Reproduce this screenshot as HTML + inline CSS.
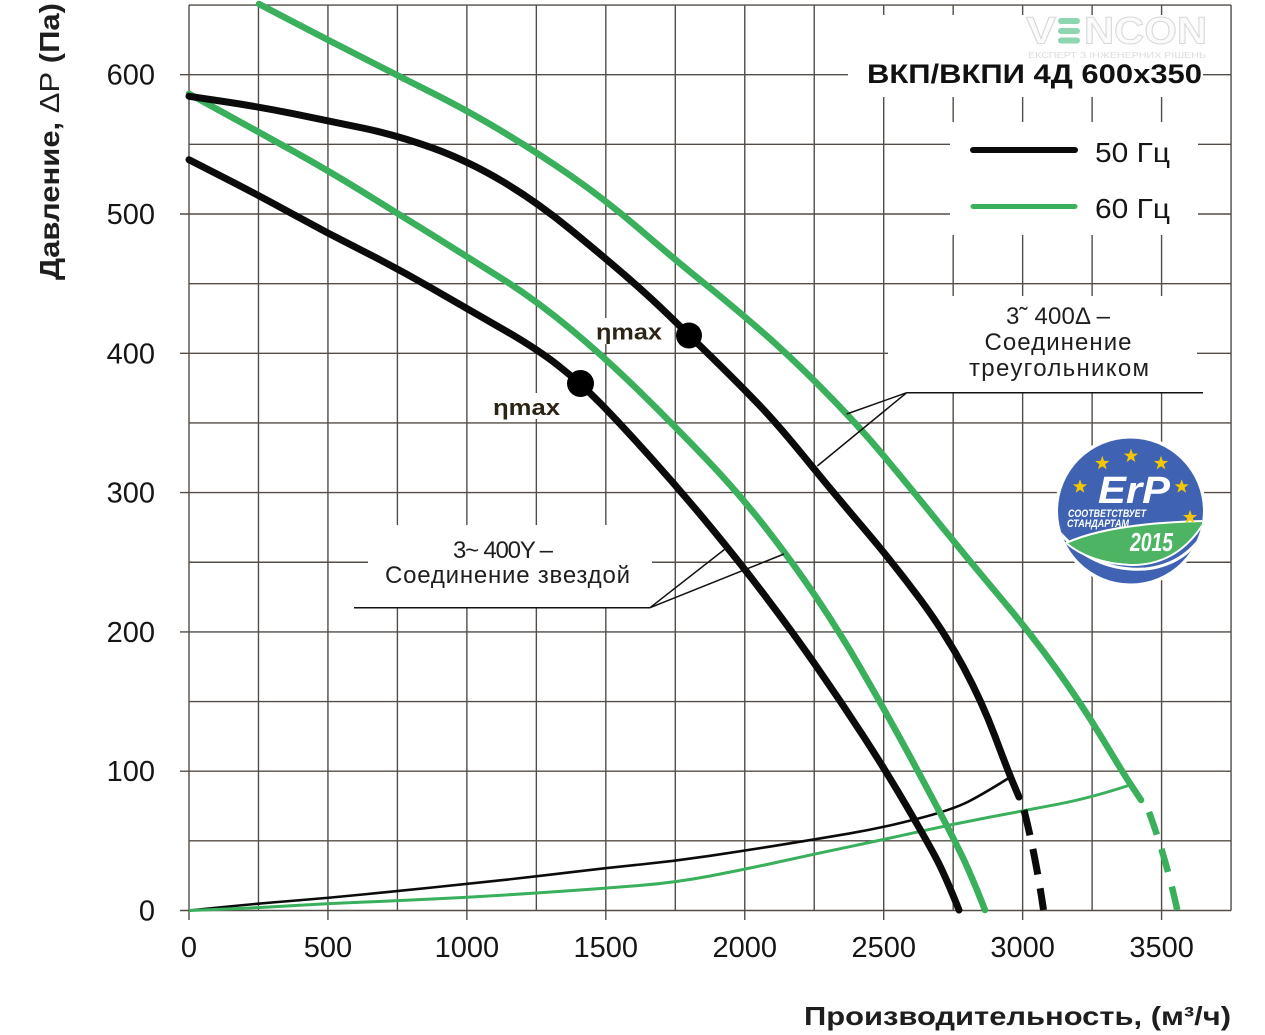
<!DOCTYPE html>
<html><head><meta charset="utf-8">
<style>
html,body{margin:0;padding:0;background:#fff;}
svg{display:block;}
</style></head>
<body>
<svg width="1265" height="1035" viewBox="0 0 1265 1035" xmlns="http://www.w3.org/2000/svg" font-family="'Liberation Sans', Arial, sans-serif">
<rect width="1265" height="1035" fill="#fff"/>
<defs>
<path id="st" d="M0,-1 L0.235,-0.324 L0.951,-0.309 L0.38,0.124 L0.588,0.809 L0,0.4 L-0.588,0.809 L-0.38,0.124 L-0.951,-0.309 L-0.235,-0.324 Z"/>
<clipPath id="erpc"><circle cx="1130.5" cy="511" r="72.5"/></clipPath>
</defs>

<!-- grid -->
<g stroke="#544c46" stroke-width="1.4" fill="none">
<line x1="189" y1="5" x2="189" y2="920"/>
<line x1="258.47" y1="5" x2="258.47" y2="910.5"/>
<line x1="327.94" y1="5" x2="327.94" y2="920"/>
<line x1="397.41" y1="5" x2="397.41" y2="910.5"/>
<line x1="466.88" y1="5" x2="466.88" y2="920"/>
<line x1="536.35" y1="5" x2="536.35" y2="910.5"/>
<line x1="605.82" y1="5" x2="605.82" y2="920"/>
<line x1="675.29" y1="5" x2="675.29" y2="910.5"/>
<line x1="744.76" y1="5" x2="744.76" y2="920"/>
<line x1="814.23" y1="5" x2="814.23" y2="910.5"/>
<line x1="883.7" y1="5" x2="883.7" y2="920"/>
<line x1="953.17" y1="5" x2="953.17" y2="910.5"/>
<line x1="1022.64" y1="5" x2="1022.64" y2="920"/>
<line x1="1092.11" y1="5" x2="1092.11" y2="910.5"/>
<line x1="1161.58" y1="5" x2="1161.58" y2="920"/>
<line x1="1231.05" y1="5" x2="1231.05" y2="910.5"/>

<line x1="180" y1="910.5" x2="1231" y2="910.5"/>
<line x1="189" y1="840.85" x2="1231" y2="840.85"/>
<line x1="180" y1="771.2" x2="1231" y2="771.2"/>
<line x1="189" y1="701.55" x2="1231" y2="701.55"/>
<line x1="180" y1="631.9" x2="1231" y2="631.9"/>
<line x1="189" y1="562.25" x2="1231" y2="562.25"/>
<line x1="180" y1="492.6" x2="1231" y2="492.6"/>
<line x1="189" y1="422.95" x2="1231" y2="422.95"/>
<line x1="180" y1="353.3" x2="1231" y2="353.3"/>
<line x1="189" y1="283.65" x2="1231" y2="283.65"/>
<line x1="180" y1="214" x2="1231" y2="214"/>
<line x1="189" y1="144.35" x2="1231" y2="144.35"/>
<line x1="180" y1="74.7" x2="1231" y2="74.7"/>
<line x1="189" y1="5.05" x2="1231" y2="5.05"/>
</g>

<!-- white knock-outs -->
<g fill="#fff">
<rect x="848" y="15" width="355" height="82"/>
<rect x="950" y="122" width="248" height="113"/>
<rect x="888" y="296" width="309" height="96"/>
<rect x="368" y="525" width="284" height="82"/>
<rect x="594" y="318" width="70" height="26"/>
<rect x="490" y="393" width="72" height="26"/>
<circle cx="1130.5" cy="511" r="76"/>
</g>

<!-- system (thin) curves -->
<path d="M189,910.5 L223.75,907 Q258.5,903.5 293.2,900.75 Q327.9,898 362.65,894.5 Q397.4,891 432.15,887.5 Q466.9,884 501.65,880.2 Q536.4,876.4 571.1,872.2 Q605.8,868 640.55,864.5 Q675.3,861 710.05,855.8 Q744.8,850.6 779.5,845.05 Q814.2,839.5 848.95,833.55 Q883.7,827.6 918.45,818.55 Q953.2,809.5 969.1,801.25 Q985,793 1012,776" fill="none" stroke="#0b0b0b" stroke-width="2.6" stroke-linejoin="round"/>
<path d="M189,910.5 L223.75,909.1 Q258.5,907.7 293.2,905.6 Q327.9,903.5 362.65,902.15 Q397.4,900.8 432.15,899.05 Q466.9,897.3 501.65,895.2 Q536.4,893.1 571.1,890.65 Q605.8,888.2 640.55,885.4 Q675.3,882.6 710.05,876 Q744.8,869.4 779.5,861.75 Q814.2,854.1 848.95,846.8 Q883.7,839.5 918.45,831.8 Q953.2,824.1 987.9,817.5 Q1022.6,810.9 1057.35,804.3 Q1092.1,797.7 1133,784" fill="none" stroke="#3aaf5c" stroke-width="3" stroke-linejoin="round"/>

<!-- fan curves -->
<g fill="none" stroke-linejoin="round" stroke-linecap="round">
<path d="M259,4 L293.45,21.95 Q327.9,39.9 362.65,57.65 Q397.4,75.4 432.15,92.8 Q466.9,110.2 501.65,131.1 Q536.4,152 571.1,176 Q605.8,200 640.55,230 Q675.3,260 702.65,282 Q730,304 758.5,328.65 Q787,353.3 821.85,388.3 Q856.7,423.3 885.35,457.8 Q914,492.3 942.5,527.5 Q971,562.7 1000.5,597.7 Q1030,632.7 1055,667.2 Q1080,701.7 1101,736.35 Q1122,771 1126.5,778 Q1131,785 1141,800" stroke="#3aaf5c" stroke-width="6.5"/>
<path d="M189,93.8 L223.75,112.85 Q258.5,131.9 293.2,151.1 Q327.9,170.3 362.65,191.8 Q397.4,213.3 432.15,234.9 Q466.9,256.5 501.65,278.45 Q536.4,300.4 571.1,329.4 Q605.8,358.4 638.9,390.85 Q672,423.3 705,457.8 Q738,492.3 765.5,527.5 Q793,562.7 816.5,597.7 Q840,632.7 860,667.2 Q880,701.7 899,736.35 Q918,771 936.5,806 Q955,841 963.5,859 Q972,877 985,910" stroke="#3aaf5c" stroke-width="6.5"/>
<path d="M189,96.3 L223.75,101.5 Q258.5,106.7 293.2,113.7 Q327.9,120.7 362.65,128 Q397.4,135.3 432.15,147.85 Q466.9,160.4 501.65,180.9 Q536.4,201.4 571.1,230 Q605.8,258.6 627.9,277.8 Q650,297 669.25,315.75 Q688.5,334.5 711.75,357.25 Q735,380 756,401.65 Q777,423.3 805,457.8 Q833,492.3 863,527.5 Q893,562.7 919,597.7 Q945,632.7 963.5,667.2 Q982,701.7 995,736.35 Q1008,771 1013.5,784 L1019,797" stroke="#0b0b0b" stroke-width="7"/>
<path d="M189,159.7 L223.75,177.45 Q258.5,195.2 293.2,214.35 Q327.9,233.5 362.65,250.9 Q397.4,268.3 432.15,288.5 Q466.9,308.7 501.65,328.55 Q536.4,348.4 558.45,365.7 Q580.5,383 600.25,403.15 Q620,423.3 651,457.8 Q682,492.3 711,527.5 Q740,562.7 766.5,597.7 Q793,632.7 817,667.2 Q841,701.7 863.5,736.35 Q886,771 906.5,806 Q927,841 936,858 Q945,875 959,910" stroke="#0b0b0b" stroke-width="7"/>
</g>
<!-- dashed extensions -->
<path d="M1024,810 Q1036,858 1043.5,910" fill="none" stroke="#0b0b0b" stroke-width="7" stroke-dasharray="26 14"/>
<path d="M1149,812 Q1166,858 1177.5,911" fill="none" stroke="#3aaf5c" stroke-width="6.5" stroke-dasharray="24 15"/>

<!-- eta max dots -->
<circle cx="689" cy="335.5" r="13" fill="#000"/>
<circle cx="580.5" cy="383.5" r="13.5" fill="#000"/>
<text x="596" y="339.5" font-size="22" font-weight="bold" fill="#2e2416" textLength="66" lengthAdjust="spacingAndGlyphs">ηmax</text>
<text x="493" y="415" font-size="22" font-weight="bold" fill="#2e2416" textLength="67" lengthAdjust="spacingAndGlyphs">ηmax</text>

<!-- leader lines -->
<g stroke="#111" stroke-width="1.5" fill="none">
<line x1="354" y1="607.7" x2="650" y2="607.7"/>
<line x1="650" y1="607.7" x2="727" y2="547.5"/>
<line x1="650" y1="607.7" x2="784" y2="554"/>
<line x1="906.7" y1="392.7" x2="1203" y2="392.7"/>
<line x1="906.7" y1="392.7" x2="846.7" y2="414"/>
<line x1="906.7" y1="392.7" x2="817.3" y2="466"/>
</g>

<!-- annotation text -->
<g font-size="24" fill="#1e1e1e" text-anchor="middle">
<text x="503" y="558" textLength="100">3~ 400Y –</text>
<text x="507.5" y="583" textLength="245">Соединение звездой</text>
<text x="1058" y="324" textLength="104">3˜ 400Δ –</text>
<text x="1058" y="350" textLength="147">Соединение</text>
<text x="1059" y="376" textLength="180">треугольником</text>
</g>

<!-- tick labels -->
<g font-size="29" fill="#151515" text-anchor="end">
<text x="155" y="84.7">600</text>
<text x="155" y="224">500</text>
<text x="155" y="363.3">400</text>
<text x="155" y="502.6">300</text>
<text x="155" y="641.9">200</text>
<text x="155" y="781.2">100</text>
<text x="155" y="920.5">0</text>
</g>
<g font-size="29" fill="#151515" text-anchor="middle">
<text x="189" y="957">0</text>
<text x="327.9" y="957">500</text>
<text x="466.9" y="957">1000</text>
<text x="605.8" y="957">1500</text>
<text x="744.8" y="957">2000</text>
<text x="883.7" y="957">2500</text>
<text x="1022.6" y="957">3000</text>
<text x="1161.6" y="957">3500</text>
</g>

<!-- axis titles -->
<text transform="translate(59,280) rotate(-90)" font-size="28" font-weight="bold" fill="#1e1e1e" textLength="277" lengthAdjust="spacingAndGlyphs">Давление, <tspan font-weight="normal">ΔP</tspan> (Па)</text>
<text x="804" y="1025" font-size="26" font-weight="bold" fill="#1e1e1e" textLength="427" lengthAdjust="spacingAndGlyphs">Производительность, (м³/ч)</text>

<!-- watermark -->
<g>
<text x="1026" y="43.5" font-size="38" font-weight="bold" fill="#fbfbfb" stroke="#d8d8d8" stroke-width="1" textLength="30" lengthAdjust="spacingAndGlyphs">V</text>
<rect x="1058" y="18" width="22" height="6" rx="3" fill="#8ed6b0"/>
<rect x="1058" y="28" width="22" height="6" rx="3" fill="#8ed6b0"/>
<rect x="1058" y="37.5" width="22" height="6" rx="3" fill="#8ed6b0"/>
<text x="1084" y="43.5" font-size="38" font-weight="bold" fill="#fbfbfb" stroke="#d8d8d8" stroke-width="1" textLength="123" lengthAdjust="spacingAndGlyphs">NCON</text>
<text x="1028" y="58" font-size="8" fill="#dcdcdc" textLength="178" lengthAdjust="spacingAndGlyphs">ЕКСПЕРТ З ІНЖЕНЕРНИХ РІШЕНЬ</text>
</g>

<!-- title -->
<text x="867" y="83" font-size="27" font-weight="bold" fill="#111" textLength="335" lengthAdjust="spacingAndGlyphs">ВКП/ВКПИ 4Д 600x350</text>

<!-- legend -->
<line x1="973" y1="150" x2="1075" y2="150" stroke="#0b0b0b" stroke-width="6" stroke-linecap="round"/>
<line x1="973" y1="206.5" x2="1075" y2="206.5" stroke="#3aaf5c" stroke-width="5" stroke-linecap="round"/>
<text x="1095" y="162" font-size="28" fill="#151515" textLength="75" lengthAdjust="spacingAndGlyphs">50 Гц</text>
<text x="1095" y="218" font-size="28" fill="#151515" textLength="75" lengthAdjust="spacingAndGlyphs">60 Гц</text>

<!-- ErP logo -->
<circle cx="1130.5" cy="511" r="72.5" fill="#3f63b2"/>
<g clip-path="url(#erpc)">
<path d="M1060,533 Q1095,572 1145,569 Q1185,565 1206,530" fill="none" stroke="#fff" stroke-width="3"/>
<path d="M1066,543 Q1110,523 1205,521 Q1178,566 1130,565 Q1090,563 1066,543 Z" fill="#4cb462" stroke="#fff" stroke-width="2"/>
</g>
<g fill="#f6c700">
<use href="#st" transform="translate(1102.3,463.3) scale(7.5)"/>
<use href="#st" transform="translate(1131,456) scale(7.5)"/>
<use href="#st" transform="translate(1161,463.3) scale(7.5)"/>
<use href="#st" transform="translate(1080,486.7) scale(7.5)"/>
<use href="#st" transform="translate(1181.7,486.7) scale(7.5)"/>
<use href="#st" transform="translate(1190,517.3) scale(7.5)"/>
</g>
<text x="1098" y="503" font-size="38" font-weight="bold" font-style="italic" fill="#fff" textLength="72" lengthAdjust="spacingAndGlyphs">ErP</text>
<text x="1068" y="517" font-size="11" font-weight="bold" font-style="italic" fill="#fff" textLength="78" lengthAdjust="spacingAndGlyphs">СООТВЕТСТВУЕТ</text>
<text x="1067" y="527" font-size="11" font-weight="bold" font-style="italic" fill="#fff" textLength="62" lengthAdjust="spacingAndGlyphs">СТАНДАРТАМ</text>
<text x="1130" y="551" font-size="26" font-weight="bold" font-style="italic" fill="#fff" textLength="43" lengthAdjust="spacingAndGlyphs">2015</text>
</svg>
</body></html>
